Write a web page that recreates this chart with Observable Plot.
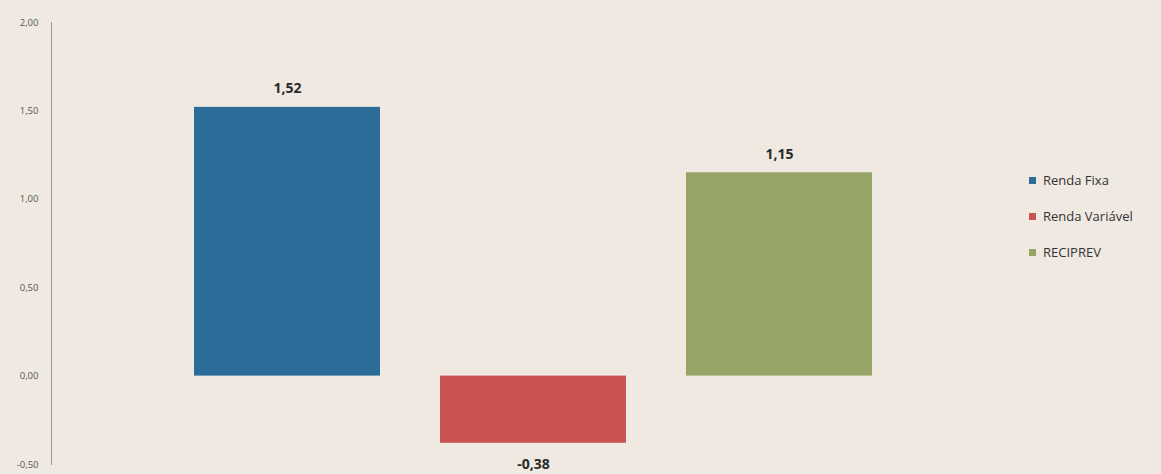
<!DOCTYPE html>
<html>
<head>
<meta charset="utf-8">
<script src="https://cdn.jsdelivr.net/npm/d3@7"></script>
<script src="https://cdn.jsdelivr.net/npm/@observablehq/plot@0.6"></script>
<style>
  html, body { margin: 0; padding: 0; background: #efe9e1; }
  #wrap { position: relative; width: 1161px; height: 474px; background: #efe9e1; font-family: "Open Sans", "Liberation Sans", sans-serif; }
  #legend { position: absolute; left: 1029px; top: 162px; font-size: 13px; color: #333; }
  #legend .row { display: flex; align-items: center; height: 36px; }
  #legend .sw { width: 7px; height: 7px; margin-right: 7px; }
</style>
</head>
<body>
<div id="wrap"><div id="legend"></div></div>
<script>
const categories = ["Renda Fixa", "Renda Variável", "RECIPREV"];
const values = [1.52, -0.38, 1.15];
const colors = ["#2b6c99", "#c85350", "#97a468"];
const yTicks = [-0.5, 0, 0.5, 1, 1.5, 2];

const data = categories.map((c, i) => ({cat: c, value: values[i]}));
const fmt = v => d3.format(".2f")(v).replace(".", ",").replace("\u2212", "-");

const chart = Plot.plot({
  width: 1161,
  height: 474,
  marginLeft: 51,
  marginRight: 146,
  marginTop: 22,
  marginBottom: 10,
  style: {background: "transparent", fontFamily: "'Open Sans', 'Liberation Sans', sans-serif"},
  x: {domain: categories, paddingInner: 0.244, paddingOuter: 0.581, axis: null},
  y: {domain: [-0.5, 2]},
  color: {domain: categories, range: colors},
  marks: [
    Plot.barY(data, {x: "cat", y: "value", fill: "cat"}),
    Plot.frame({anchor: "left", stroke: "#9a9690", strokeWidth: 1}),
    Plot.axisY({ticks: yTicks, tickFormat: fmt, tickSize: 0, tickPadding: 13, fontSize: 9.5, fill: "#555", label: null}),
    Plot.text(data.filter(d => d.value >= 0), {x: "cat", y: "value", text: d => fmt(d.value), lineAnchor: "bottom", dy: -14, fontSize: 14, fontWeight: "bold", fill: "#2a2a2a"}),
    Plot.text(data.filter(d => d.value < 0), {x: "cat", y: "value", text: d => fmt(d.value), lineAnchor: "top", dy: 16, fontSize: 14, fontWeight: "bold", fill: "#2a2a2a"})
  ]
});
document.getElementById("wrap").prepend(chart);
chart.style.position = "absolute";
chart.style.left = "0";
chart.style.top = "0";

const legend = document.getElementById("legend");
categories.forEach((c, i) => {
  const row = document.createElement("div");
  row.className = "row";
  const sw = document.createElement("div");
  sw.className = "sw";
  sw.style.background = colors[i];
  const t = document.createElement("span");
  t.textContent = c;
  row.append(sw, t);
  legend.append(row);
});
</script>
</body>
</html>
